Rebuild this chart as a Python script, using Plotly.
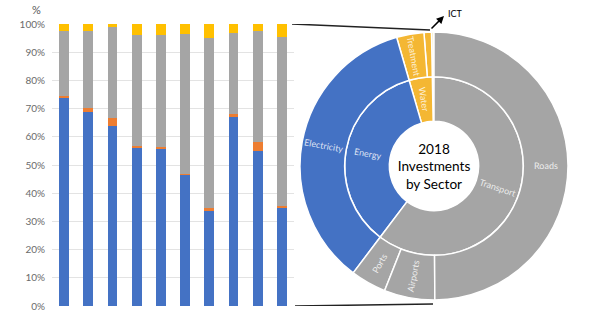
import math
import plotly.graph_objects as go

# ---- Bar chart data (percent shares per project/country) ----
bar_categories = ["1", "2", "3", "4", "5", "6", "7", "8", "9", "10"]
blue_vals   = [73.6, 68.9, 63.8, 56.3, 55.9, 46.6, 33.8, 66.9, 55.1, 34.9]
orange_vals = [0.8, 1.2, 2.8, 0.4, 0.6, 0.3, 0.9, 1.1, 3.2, 0.6]
gray_vals   = [23.0, 27.4, 32.2, 39.3, 39.5, 49.6, 60.2, 28.9, 39.2, 60.0]
yellow_vals = [2.6, 2.5, 1.2, 4.0, 4.0, 3.5, 5.1, 3.1, 2.5, 4.5]
y_ticks = [0, 10, 20, 30, 40, 50, 60, 70, 80, 90, 100]
y_tick_labels = ["0%", "10%", "20%", "30%", "40%", "50%", "60%", "70%", "80%", "90%", "100%"]

# ---- Sunburst data ----
sb_ids     = ["root", "ICT", "Water", "Energy", "Transport",
              "ICT-sub", "Water-other", "Treatment", "Electricity",
              "Ports", "Airports", "Roads"]
sb_labels  = ["2018<br>Investments<br>by Sector", "ICT", "Water", "Energy", "Transport",
              "", "", "Treatment", "Electricity", "Ports", "Airports", "Roads"]
sb_parents = ["", "root", "root", "root", "root",
              "ICT", "Water", "Water", "Energy",
              "Transport", "Transport", "Transport"]
leaf_values = {"ICT-sub": 0.3, "Water-other": 0.9, "Treatment": 3.3,
               "Electricity": 35.2, "Ports": 4.3, "Airports": 6.1, "Roads": 49.9}

BLUE, ORANGE, GRAY, YELLOW = "#4472C4", "#ED7D31", "#A5A5A5", "#FFC000"
SB_BLUE, SB_GRAY, SB_YELLOW, SB_ICT = "#4472C4", "#A5A5A5", "#F4B733", "#F7E7B4"

W, H = 589, 322
SB_DOMAIN_X = [300 / W, 568 / W]
SB_DOMAIN_Y = [22 / H, 290 / H]

vals = dict(leaf_values)
def children(node):
    return [c for c, p in zip(sb_ids, sb_parents) if p == node]
def total(node):
    kids = children(node)
    if not kids:
        return vals[node]
    s = sum(total(k) for k in kids)
    vals[node] = s
    return s
total("root")
sb_values = [vals[i] for i in sb_ids]

color_map = {"root": "white", "ICT": SB_ICT, "ICT-sub": SB_ICT,
             "Water": SB_YELLOW, "Water-other": SB_YELLOW, "Treatment": SB_YELLOW,
             "Energy": SB_BLUE, "Electricity": SB_BLUE,
             "Transport": SB_GRAY, "Ports": SB_GRAY, "Airports": SB_GRAY, "Roads": SB_GRAY}
sb_colors = [color_map[i] for i in sb_ids]
sb_text = [sb_labels[0]] + [""] * (len(sb_ids) - 1)

FONT = "Lato, Open Sans, sans-serif"

fig = go.Figure()
for name, v, c in [("Blue", blue_vals, BLUE), ("Orange", orange_vals, ORANGE),
                   ("Gray", gray_vals, GRAY), ("Yellow", yellow_vals, YELLOW)]:
    fig.add_trace(go.Bar(x=bar_categories, y=v, name=name, marker_color=c,
                         marker_line_width=0, showlegend=False, hoverinfo="skip"))

fig.add_trace(go.Sunburst(
    ids=sb_ids, labels=sb_labels, parents=sb_parents, values=sb_values,
    branchvalues="total", sort=False, rotation=90,
    text=sb_text, textinfo="text",
    marker=dict(colors=sb_colors, line=dict(color="white", width=1.5)),
    leaf=dict(opacity=1),
    textfont=dict(color="black", size=14, family=FONT),
    insidetextorientation="horizontal",
    domain=dict(x=SB_DOMAIN_X, y=SB_DOMAIN_Y),
))

# ---- radial labels for sunburst slices, derived from the values ----
cx = (SB_DOMAIN_X[0] + SB_DOMAIN_X[1]) / 2 * W
cy = (1 - (SB_DOMAIN_Y[0] + SB_DOMAIN_Y[1]) / 2) * H
R = min((SB_DOMAIN_X[1] - SB_DOMAIN_X[0]) * W, (SB_DOMAIN_Y[1] - SB_DOMAIN_Y[0]) * H) / 2
ring = R / 3
label_anns = []
def place(node, start, depth):
    # plotly draws children counter-clockwise in data order from 12 o'clock,
    # so walking them reversed gives clockwise order
    a = start
    for k in reversed(children(node)):
        span = vals[k] / vals["root"] * 360
        lab = sb_labels[sb_ids.index(k)]
        if lab and lab != "ICT":
            th = a + span / 2
            r = ring * (depth + 1.5)
            x = cx + r * math.sin(math.radians(th))
            y = cy - r * math.cos(math.radians(th))
            phi = th - 90
            while phi > 90:
                phi -= 180
            while phi <= -90:
                phi += 180
            label_anns.append(dict(text=lab, x=x / W, y=1 - y / H, xref="paper", yref="paper",
                                   showarrow=False, textangle=phi, xanchor="center",
                                   yanchor="middle",
                                   font=dict(size=9, color="rgba(255,255,255,0.82)", family=FONT)))
        place(k, a, depth + 1)
        a += span
place("root", 0, 0)

fig.update_layout(
    width=W, height=H, margin=dict(l=0, r=0, t=0, b=0, autoexpand=False),
    paper_bgcolor="white", plot_bgcolor="white",
    barmode="stack", bargap=0.59,
    font=dict(family=FONT, color="#595959", size=10),
    xaxis=dict(domain=[52 / W, 294 / W], showticklabels=False, showgrid=False,
               zeroline=False, showline=False, ticks="", automargin=False),
    yaxis=dict(domain=[16 / H, 298 / H], range=[0, 100], tickmode="array",
               tickvals=y_ticks, ticktext=y_tick_labels,
               showgrid=True, gridcolor="#E3E3E3", gridwidth=1, automargin=False,
               zeroline=False, showline=False, ticks="", ticklabelstandoff=6,
               tickfont=dict(size=10, color="#6b6b6b")),
    shapes=[
        dict(type="line", xref="paper", yref="y", x0=292 / W, y0=100,
             x1=430 / W, y1=100 - 6 / 2.82, line=dict(color="#222222", width=1.5)),
        dict(type="line", xref="paper", yref="y", x0=295 / W, y0=0,
             x1=433 / W, y1=2 / 2.82, line=dict(color="#222222", width=1.5)),
    ],
    annotations=[
        dict(text="%", xref="paper", yref="paper", x=36 / W, y=1 - 10 / H,
             xanchor="center", yanchor="middle",
             showarrow=False, font=dict(size=11, color="#595959")),
        dict(text="", xref="paper", yref="paper", x=444 / W, y=1 - 16 / H,
             showarrow=True, arrowhead=2, arrowsize=1, arrowwidth=1.5,
             arrowcolor="black", axref="pixel", ayref="pixel", ax=-14, ay=14),
        dict(text="ICT", xref="paper", yref="paper", x=455 / W, y=1 - 13 / H,
             xanchor="center", yanchor="middle",
             showarrow=False, font=dict(size=9, color="black")),
    ] + label_anns,
)

fig.write_html("out.html", config={"displayModeBar": False},
               post_script="document.body.style.margin='0';")
